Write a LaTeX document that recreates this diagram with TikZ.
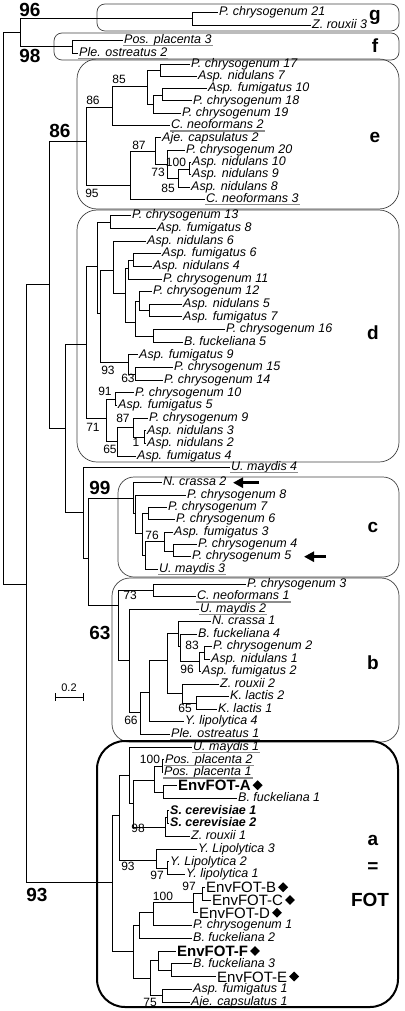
\documentclass[tikz,border=0pt]{standalone}
\usepackage{fontspec}
\setmainfont{Liberation Sans}
\usetikzlibrary{shapes.geometric,arrows.meta}
\newcommand\fleaf{\fontsize{12.5}{14}\selectfont\itshape}
\newcommand\fsup{\fontsize{12}{14}\selectfont}
\newcommand\fbig{\fontsize{19}{22}\selectfont\bfseries}
\newcommand\fenv{\fontsize{15}{17}\selectfont}
\tikzset{
 br/.style={line width=0.9pt},
 leaf/.style={anchor=west, inner xsep=1pt, inner ysep=0pt, font=\fleaf, text height=9pt, text depth=2.5pt},
 envl/.style={anchor=west, inner xsep=1pt, inner ysep=0pt, font=\fenv, text height=11pt, text depth=0pt},
 ul/.style={draw=black!45, line width=1.3pt},
 sup/.style={font=\fsup, inner sep=0pt},
 big/.style={font=\fbig, inner sep=0pt},
 box/.style={draw=black!75, line width=0.7pt},
 boxa/.style={draw=black, line width=2pt, rounded corners=28pt},
 dia/.style={diamond, fill=black, inner sep=0pt, minimum width=10pt, minimum height=10pt, anchor=west},
 bigarrow/.style={line width=3pt, -{Triangle[length=10pt,width=10pt]}}
}
\newcommand\leafN[5]{\node[leaf] (#1) at (#2,#3) {#4}; \draw[br] (#5) |- (#1.west);}
\newcommand\leafU[5]{\leafN{#1}{#2}{#3}{#4}{#5}\draw[ul] ([yshift=-2.2pt]#1.base west) -- ([yshift=-2.2pt]#1.base east);}
\newcommand\envN[6]{\node[envl,#6] (#1) at (#2,#3) {#4}; \draw[br] (#5) |- (#1.west); \node[dia] (#1d) at ([xshift=0.5pt]#1.east) {};}
\newcommand\edg[2]{\draw[br] (#1) |- (#2);}
\begin{document}
\begin{tikzpicture}[x=1pt,y=-1pt]
\useasboundingbox (0,0) rectangle (404,1011);
% boxes
\draw[box, rounded corners=8pt] (97,4) rectangle (399,31);
\draw[box, rounded corners=8pt] (54,33) rectangle (399,60);
\draw[box, rounded corners=20pt] (77,59) rectangle (399,209);
\draw[box, rounded corners=20pt] (77,210) rectangle (399,462);
\draw[box, rounded corners=16pt] (118,477) rectangle (399,577);
\draw[box, rounded corners=18pt] (112,578) rectangle (399,742);
\draw[boxa] (97,741) rectangle (398,1007);
\node[big] (lg) at (375,17) {g};
\node[big] (lf) at (375,46) {f};
\node[big] (le) at (375,137) {e};
\node[big] (ld) at (373,333) {d};
\node[big] (lc) at (373,527) {c};
\node[big] (lb) at (373,663) {b};
\node[big] (la) at (373,840) {a};
\node[big] (leq) at (373,868) {=};
\node[big] (lfot) at (370,900) {FOT};
% backbone
\coordinate (r0) at (3,308);
\coordinate (n96) at (20,32);
\coordinate (ng) at (192,18.5);
\coordinate (nf) at (72,46.5);
\coordinate (nX) at (26,584);
\coordinate (nA) at (49,284);
\coordinate (nB) at (65,428);
\coordinate (nC) at (83,512);
\coordinate (n99) at (88,558);
\edg{r0}{n96} \edg{n96}{ng} \edg{n96}{nf}
\edg{r0}{nX} \edg{nX}{nA} \edg{nA}{nB} \edg{nB}{nC} \edg{nC}{n99}
\node[big] (b96) at (30,10) {96};
\node[big] (b98) at (30,56) {98};
\node[big] (b86) at (60,131) {86};
\node[big] (b99) at (100,488) {99};
\node[big] (b63) at (100,633) {63};
\node[big] (b93) at (37,895) {93};
% g, f
\leafN{g1}{218}{12}{P. chrysogenum 21}{ng}
\leafN{g2}{311}{25}{Z. rouxii 3}{ng}
\leafU{f1}{123}{40}{Pos. placenta 3}{nf}
\leafU{f2}{78}{53}{Ple. ostreatus 2}{nf}
\leafU{um4}{230}{467}{U. maydis 4}{nC}
% e clade
\coordinate (ne) at (86,141);
\coordinate (e1) at (112,107);
\coordinate (e3) at (147,86);
\coordinate (e4) at (160,70);
\coordinate (e5) at (153,104);
\coordinate (e6) at (162,95);
\coordinate (e2) at (130,185);
\coordinate (e7) at (155,151);
\coordinate (e8) at (167,164);
\coordinate (e9) at (178,178);
\coordinate (e10) at (189,169);
\edg{nA}{ne} \edg{ne}{e1} \edg{ne}{e2} \edg{e1}{e3} \edg{e3}{e4} \edg{e3}{e5} \edg{e5}{e6}
\edg{e2}{e7} \edg{e7}{e8} \edg{e8}{e9} \edg{e9}{e10}
\leafN{eL1}{190}{64}{P. chrysogenum 17}{e4}
\leafN{eL2}{197}{76.3}{Asp. nidulans 7}{e4}
\leafN{eL3}{207}{88.6}{Asp. fumigatus 10}{e6}
\leafN{eL4}{192}{100.9}{P. chrysogenum 18}{e6}
\leafN{eL5}{181}{113.2}{P. chrysogenum 19}{e5}
\leafU{eL6}{170}{125.5}{C. neoformans 2}{e1}
\leafN{eL7}{161}{137.8}{Aje. capsulatus 2}{e7}
\leafN{eL8}{185}{150}{P. chrysogenum 20}{e8}
\leafN{eL9}{191}{162.4}{Asp. nidulans 10}{e10}
\leafN{eL10}{191}{174.7}{Asp. nidulans 9}{e10}
\leafN{eL11}{190}{187}{Asp. nidulans 8}{e9}
\leafU{eL12}{205}{199.3}{C. neoformans 3}{e2}
\node[sup] (se1) at (93,100) {86};
\node[sup] (se2) at (119,79) {85};
\node[sup] (se3) at (92,193) {95};
\node[sup] (se4) at (139,145) {87};
\node[sup] (se5) at (158,172) {73};
\node[sup] (se6) at (176,162) {100};
\node[sup] (se7) at (168,188) {85};
% d clade
\coordinate (nd) at (86,344);
\coordinate (d1) at (97,266);
\coordinate (d2) at (110,222);
\coordinate (d3) at (100,313);
\coordinate (d4) at (113,270);
\coordinate (d6) at (125,293);
\coordinate (d7) at (128,268);
\coordinate (d9) at (133,260);
\coordinate (d8) at (135,322);
\coordinate (d10) at (139,301);
\coordinate (d12) at (149,310.6);
\coordinate (d11) at (153,336);
\coordinate (d5) at (128,362);
\coordinate (d13) at (135,374);
\coordinate (d20) at (106,418);
\coordinate (d21) at (115,399);
\coordinate (d22) at (117,441);
\coordinate (d23) at (133,427);
\coordinate (d24) at (144,437);
\edg{nB}{nd} \edg{nd}{d1} \edg{nd}{d20} \edg{d1}{d2} \edg{d1}{d3} \edg{d3}{d4} \edg{d3}{d5}
\edg{d4}{d6} \edg{d6}{d7} \edg{d6}{d8} \edg{d7}{d9} \edg{d8}{d10} \edg{d8}{d11} \edg{d10}{d12}
\edg{d5}{d13} \edg{d20}{d21} \edg{d20}{d22} \edg{d22}{d23} \edg{d23}{d24}
\leafN{dL1}{131}{215.7}{P. chrysogenum 13}{d2}
\leafN{dL2}{156}{228.3}{Asp. fumigatus 8}{d2}
\leafN{dL3}{146}{241}{Asp. nidulans 6}{d4}
\leafN{dL4}{161}{253.7}{Asp. fumigatus 6}{d9}
\leafN{dL5}{152}{266.3}{Asp. nidulans 4}{d9}
\leafN{dL6}{162}{279}{P. chrysogenum 11}{d7}
\leafN{dL7}{152}{291.6}{P. chrysogenum 12}{d10}
\leafN{dL8}{182}{304.3}{Asp. nidulans 5}{d12}
\leafN{dL9}{182}{316.9}{Asp. fumigatus 7}{d12}
\leafN{dL10}{225}{329.6}{P. chrysogenum 16}{d11}
\leafN{dL11}{183}{342.2}{B. fuckeliana 5}{d11}
\leafN{dL12}{138}{354.9}{Asp. fumigatus 9}{d5}
\leafN{dL13}{173}{367.5}{P. chrysogenum 15}{d13}
\leafN{dL14}{163}{380.2}{P. chrysogenum 14}{d13}
\leafN{dL15}{134}{392.8}{P. chrysogenum 10}{d21}
\leafN{dL16}{117}{405.5}{Asp. fumigatus 5}{d21}
\leafN{dL17}{148}{418.1}{P. chrysogenum 9}{d23}
\leafN{dL18}{146}{430.8}{Asp. nidulans 3}{d24}
\leafN{dL19}{146}{443.4}{Asp. nidulans 2}{d24}
\leafN{dL20}{136}{456}{Asp. fumigatus 4}{d22}
\node[sup] (sd1) at (108,370) {93};
\node[sup] (sd2) at (128,378) {63};
\node[sup] (sd3) at (105,391) {91};
\node[sup] (sd4) at (93,427) {71};
\node[sup] (sd5) at (123,418) {87};
\node[sup] (sd6) at (136,442) {1};
\node[sup] (sd7) at (110,449) {65};
% c clade
\coordinate (c1) at (133,498);
\coordinate (c2) at (135,513);
\coordinate (c3) at (142,533);
\coordinate (c4) at (148,513);
\coordinate (c5) at (145,555);
\coordinate (c6) at (164,541);
\coordinate (c7) at (173,551);
\edg{n99}{c1} \edg{c1}{c2} \edg{c2}{c3} \edg{c3}{c4} \edg{c3}{c5} \edg{c5}{c6} \edg{c6}{c7}
\leafN{cL1}{162}{482.7}{N. crassa 2}{c1}
\leafN{cL2}{186}{495}{P. chrysogenum 8}{c2}
\leafN{cL3}{167}{507.4}{P. chrysogenum 7}{c4}
\leafN{cL4}{175}{519.7}{P. chrysogenum 6}{c4}
\leafN{cL5}{173}{532}{Asp. fumigatus 3}{c6}
\leafN{cL6}{197}{544.4}{P. chrysogenum 4}{c7}
\leafN{cL7}{191}{556.7}{P. chrysogenum 5}{c7}
\leafU{cL8}{158}{569}{U. maydis 3}{c5}
\node[sup] (sc1) at (152,535) {76};
\coordinate (ar1s) at (259,482.7);
\coordinate (ar1e) at (233,482.7);
\coordinate (ar2s) at (326,556.7);
\coordinate (ar2e) at (304,556.7);
\draw[bigarrow] (ar1s) -- (ar1e);
\draw[bigarrow] (ar2s) -- (ar2e);
% b clade
\coordinate (nb) at (118,605);
\coordinate (b1) at (153,590);
\coordinate (b2) at (129,660);
\coordinate (b4) at (140,712);
\coordinate (b5) at (149,692);
\coordinate (b6) at (167,660);
\coordinate (b7) at (178,633);
\coordinate (b9) at (180,646);
\coordinate (b10) at (199,661);
\coordinate (b11) at (204,652);
\coordinate (b8) at (182,693);
\coordinate (b12) at (196,703);
\edg{n99}{nb} \edg{nb}{b1} \edg{nb}{b2} \edg{b2}{b4} \edg{b4}{b5} \edg{b5}{b6} \edg{b6}{b7}
\edg{b6}{b8} \edg{b7}{b9} \edg{b9}{b10} \edg{b10}{b11} \edg{b8}{b12}
\leafN{bL1}{246}{584}{P. chrysogenum 3}{b1}
\leafU{bL2}{196}{596.5}{C. neoformans 1}{b1}
\leafU{bL3}{199}{609}{U. maydis 2}{b2}
\leafN{bL4}{211}{621.5}{N. crassa 1}{b7}
\leafN{bL5}{197}{634}{B. fuckeliana 4}{b9}
\leafN{bL6}{212}{646.5}{P. chrysogenum 2}{b11}
\leafN{bL7}{210}{659}{Asp. nidulans 1}{b11}
\leafN{bL8}{201}{671.5}{Asp. fumigatus 2}{b10}
\leafN{bL9}{219}{684}{Z. rouxii 2}{b8}
\leafN{bL10}{229}{696.5}{K. lactis 2}{b12}
\leafN{bL11}{217}{709}{K. lactis 1}{b12}
\leafN{bL12}{184}{721.5}{Y. lipolytica 4}{b5}
\leafU{bL13}{170}{734}{Ple. ostreatus 1}{b4}
\node[sup] (sb1) at (130,595) {73};
\node[sup] (sb2) at (192,645) {83};
\node[sup] (sb3) at (187,669) {96};
\node[sup] (sb4) at (185,708) {65};
\node[sup] (sb5) at (131,720) {66};
% scale bar
\coordinate (sc0) at (55,697);
\coordinate (sc2) at (83,697);
\draw[br] (sc0) -- (sc2);
\draw[br] ([yshift=4pt]sc0) -- ([yshift=-4pt]sc0);
\draw[br] ([yshift=4pt]sc2) -- ([yshift=-4pt]sc2);
\node[sup, font=\fontsize{11}{12}\selectfont] (scl) at (69,688) {0.2};
% a clade
\coordinate (na) at (112,882);
\coordinate (a1) at (119,815);
\coordinate (a3) at (129,775);
\coordinate (a5) at (133,803);
\coordinate (a6) at (154,780);
\coordinate (a8) at (162,766);
\coordinate (a9) at (163,792);
\coordinate (a7) at (165,827);
\coordinate (a10) at (167,817);
\coordinate (a4) at (156,860);
\coordinate (a11) at (167,868);
\coordinate (a2) at (133,951);
\coordinate (a12) at (139,925);
\coordinate (a14) at (153,912);
\coordinate (a15) at (193,902);
\coordinate (a16) at (202,893);
\coordinate (a13) at (150,978);
\coordinate (a17) at (158,960);
\coordinate (a19) at (171,970);
\coordinate (a18) at (162,995);
\edg{nX}{na} \edg{na}{a1} \edg{na}{a2} \edg{a1}{a3} \edg{a1}{a4} \edg{a3}{a5} \edg{a5}{a6} \edg{a5}{a7}
\edg{a6}{a8} \edg{a6}{a9} \edg{a7}{a10} \edg{a4}{a11} \edg{a2}{a12} \edg{a2}{a13} \edg{a12}{a14}
\edg{a14}{a15} \edg{a15}{a16} \edg{a13}{a17} \edg{a13}{a18} \edg{a17}{a19}
\leafU{aL1}{192}{747}{U. maydis 1}{a3}
\leafU{aL2}{164}{759.75}{Pos. placenta 2}{a8}
\leafU{aL3}{163}{772.5}{Pos. placenta 1}{a8}
\envN{aL4}{177}{785.25}{EnvFOT-A}{a9}{font=\fenv\bfseries}
\leafN{aL5}{237}{798}{B. fuckeliana 1}{a9}
\leafN{aL6}{169}{810.75}{\bfseries S. cerevisiae 1}{a10}
\leafN{aL7}{169}{823.5}{\bfseries S. cerevisiae 2}{a10}
\leafN{aL8}{190}{836.25}{Z. rouxii 1}{a7}
\leafN{aL9}{197}{849}{Y. Lipolytica 3}{a4}
\leafN{aL10}{169}{861.75}{Y. Lipolytica 2}{a11}
\leafN{aL11}{185}{874.5}{Y. lipolytica 1}{a11}
\envN{aL12}{205}{887.25}{EnvFOT-B}{a16}{}
\envN{aL13}{211}{900}{EnvFOT-C}{a16}{}
\envN{aL14}{198}{912.75}{EnvFOT-D}{a15}{}
\leafN{aL15}{192}{925.5}{P. chrysogenum 1}{a14}
\leafN{aL16}{192}{938.25}{B. fuckeliana 2}{a12}
\envN{aL17}{176}{951}{EnvFOT-F}{a17}{font=\fenv\bfseries}
\leafN{aL18}{192}{963.75}{B. fuckeliana 3}{a19}
\envN{aL19}{216}{976.5}{EnvFOT-E}{a19}{}
\leafN{aL20}{192}{989.25}{Asp. fumigatus 1}{a18}
\leafN{aL21}{190}{1002}{Aje. capsulatus 1}{a18}
\node[sup] (sa1) at (150,759) {100};
\node[sup] (sa2) at (138,828) {98};
\node[sup] (sa3) at (128,866) {93};
\node[sup] (sa4) at (157,875) {97};
\node[sup] (sa5) at (189,886) {97};
\node[sup] (sa6) at (163,896) {100};
\node[sup] (sa7) at (150,1002) {75};
\end{tikzpicture}
\end{document}
